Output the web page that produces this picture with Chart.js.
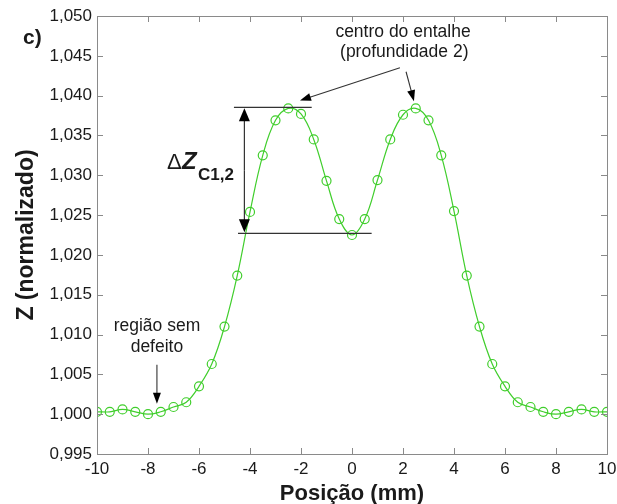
<!DOCTYPE html>
<html>
<head>
<meta charset="utf-8">
<script src="https://cdn.jsdelivr.net/npm/chart.js@4.4.1/dist/chart.umd.min.js"></script>
<style>
  html, body { margin: 0; padding: 0; background: #fff; }
  #wrap { width: 617px; height: 504px; }
</style>
</head>
<body>
<div id="wrap"><canvas id="chart" width="617" height="504"></canvas></div>
<script>
// Posição (mm)
const posicao = [
    -10, -9.5, -9, -8.5, -8, -7.5, -7, -6.5, -6, -5.5, -5, -4.5, -4, -3.5, -3, -2.5, -2, -1.5, -1, -0.5,
    0, 0.5, 1, 1.5, 2, 2.5, 3, 3.5, 4, 4.5, 5, 5.5, 6, 6.5, 7, 7.5, 8, 8.5, 9, 9.5, 10
];
// Z (normalizado)
const zNormalizado = [
    1.0003, 1.0003, 1.0006, 1.0003, 1.0000, 1.0003, 1.0009, 1.0015, 1.0035, 1.0063, 1.0110, 1.0174,
    1.0254, 1.0325, 1.0369, 1.0384, 1.0377, 1.0345, 1.0293, 1.0245,
    1.0225,
    1.0245, 1.0294, 1.0345, 1.0376, 1.0384, 1.0369, 1.0325, 1.0255, 1.0174, 1.0110, 1.0063,
    1.0035, 1.0015, 1.0009, 1.0003, 1.0000, 1.0003, 1.0006, 1.0003, 1.0003
];
const xTicks = [-10, -8, -6, -4, -2, 0, 2, 4, 6, 8, 10];
const yTicks = [0.995, 1.000, 1.005, 1.010, 1.015, 1.020, 1.025, 1.030, 1.035, 1.040, 1.045, 1.050];

const verde = 'rgb(64, 206, 44)';
const cinza = '#8a8a8a';
const fonte = '"Liberation Sans", Arial, sans-serif';

// Moldura, ticks internos, textos e anotações
const anotacoes = {
    id: 'anotacoes',
    afterDraw(chart) {
        const { ctx, chartArea: a, scales: { x, y } } = chart;
        ctx.save();

        // caixa
        ctx.strokeStyle = cinza;
        ctx.lineWidth = 1;
        ctx.strokeRect(Math.round(a.left) + 0.5, Math.round(a.top) + 0.5,
            Math.round(a.right - a.left), Math.round(a.bottom - a.top));

        // ticks para dentro
        const t = 6;
        ctx.beginPath();
        xTicks.forEach(v => {
            const px = Math.round(x.getPixelForValue(v)) + 0.5;
            ctx.moveTo(px, a.bottom); ctx.lineTo(px, a.bottom - t);
            ctx.moveTo(px, a.top); ctx.lineTo(px, a.top + t);
        });
        yTicks.forEach(v => {
            const py = Math.round(y.getPixelForValue(v)) + 0.5;
            ctx.moveTo(a.left, py); ctx.lineTo(a.left + t, py);
            ctx.moveTo(a.right, py); ctx.lineTo(a.right - t, py);
        });
        ctx.stroke();

        const X = v => x.getPixelForValue(v);
        const Y = v => y.getPixelForValue(v);

        function seta(x1, y1, x2, y2, len, larg) {
            const ang = Math.atan2(y2 - y1, x2 - x1);
            ctx.beginPath();
            ctx.moveTo(x1, y1);
            ctx.lineTo(x2 - Math.cos(ang) * len * 0.8, y2 - Math.sin(ang) * len * 0.8);
            ctx.stroke();
            ctx.beginPath();
            ctx.moveTo(x2, y2);
            ctx.lineTo(x2 - Math.cos(ang) * len + Math.sin(ang) * larg / 2,
                       y2 - Math.sin(ang) * len - Math.cos(ang) * larg / 2);
            ctx.lineTo(x2 - Math.cos(ang) * len - Math.sin(ang) * larg / 2,
                       y2 - Math.sin(ang) * len + Math.cos(ang) * larg / 2);
            ctx.closePath();
            ctx.fill();
        }

        // linhas de referência do ΔZ
        ctx.strokeStyle = '#333';
        ctx.fillStyle = '#000';
        ctx.lineWidth = 1.2;
        ctx.beginPath();
        ctx.moveTo(X(-4.63), Y(1.03853)); ctx.lineTo(X(-1.58), Y(1.03853));
        ctx.moveTo(X(-4.47), Y(1.02271)); ctx.lineTo(X(0.77), Y(1.02271));
        ctx.stroke();

        // seta dupla
        const xs = X(-4.22);
        const ym = (Y(1.03853) + Y(1.02271)) / 2;
        seta(xs, ym, xs, Y(1.03853) + 1, 13, 11);
        seta(xs, ym, xs, Y(1.02271) - 1, 13, 11);

        // setas "centro do entalhe"
        ctx.lineWidth = 1.1;
        seta(X(1.88), Y(1.0435), X(-2.04), Y(1.0394), 11, 8);
        seta(X(2.12), Y(1.0430), X(2.43), Y(1.0393), 11, 8);
        // seta "região sem defeito"
        seta(X(-7.65), Y(1.0062), X(-7.65), Y(1.0013), 11, 8);

        // textos
        ctx.fillStyle = '#1a1a1a';
        ctx.textAlign = 'center';
        ctx.textBaseline = 'alphabetic';
        ctx.font = '17.5px ' + fonte;
        ctx.fillText('centro do entalhe', X(2.0), 37);
        ctx.fillText('(profundidade 2)', X(2.05), 57);
        ctx.fillText('região sem', X(-7.65), Y(1.0104));
        ctx.fillText('defeito', X(-7.65), Y(1.0078));

        // ΔZC1,2
        ctx.textAlign = 'left';
        ctx.font = '22px ' + fonte;
        ctx.fillText('Δ', 167, 169);
        ctx.font = 'italic bold 24px ' + fonte;
        ctx.fillText('Z', 182, 169);
        ctx.font = 'bold 17px ' + fonte;
        ctx.fillText('C1,2', 198, 180);

        // c)
        ctx.font = 'bold 21px ' + fonte;
        ctx.fillText('c)', 23, 44);

        // títulos dos eixos
        ctx.textAlign = 'center';
        ctx.font = 'bold 22px ' + fonte;
        ctx.fillText('Posição (mm)', (a.left + a.right) / 2, 500);
        ctx.translate(33, (a.top + a.bottom) / 2);
        ctx.rotate(-Math.PI / 2);
        ctx.font = 'bold 23px ' + fonte;
        ctx.fillText('Z (normalizado)', 0, 0);

        ctx.restore();
    }
};

new Chart(document.getElementById('chart'), {
    type: 'line',
    data: {
        datasets: [{
            data: posicao.map((p, i) => ({ x: p, y: zNormalizado[i] })),
            borderColor: verde,
            borderWidth: 1.2,
            tension: 0.4,
            pointStyle: 'circle',
            pointRadius: 4.5,
            pointBorderWidth: 1.2,
            pointBorderColor: verde,
            pointBackgroundColor: 'rgba(0,0,0,0)',
            fill: false
        }]
    },
    options: {
        responsive: false,
        animation: false,
        layout: { padding: { top: 16, right: 10, left: 0, bottom: 0 } },
        plugins: { legend: { display: false }, tooltip: { enabled: false } },
        scales: {
            x: {
                type: 'linear',
                min: -10,
                max: 10,
                afterFit: s => { s.height = 50; s.paddingLeft = 0; s.paddingRight = 0; },
                afterBuildTicks: s => { s.ticks = xTicks.map(v => ({ value: v })); },
                grid: { display: false, drawTicks: false },
                border: { display: false },
                ticks: {
                    padding: 5,
                    color: '#1a1a1a',
                    font: { family: fonte, size: 17 },
                    maxRotation: 0,
                    callback: v => String(v)
                }
            },
            y: {
                min: 0.995,
                max: 1.05,
                afterFit: s => { s.width = 97; s.paddingTop = 0; s.paddingBottom = 0; },
                afterBuildTicks: s => { s.ticks = yTicks.map(v => ({ value: v })); },
                grid: { display: false, drawTicks: false },
                border: { display: false },
                ticks: {
                    padding: 5,
                    color: '#1a1a1a',
                    font: { family: fonte, size: 17 },
                    callback: v => v.toFixed(3).replace('.', ',')
                }
            }
        }
    },
    plugins: [anotacoes]
});
</script>
</body>
</html>
